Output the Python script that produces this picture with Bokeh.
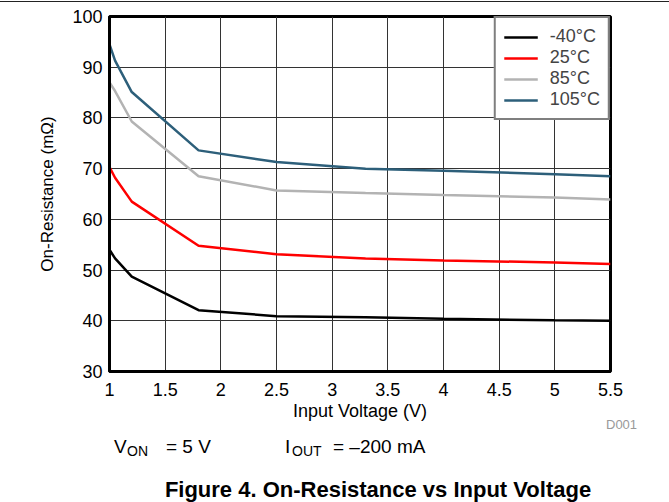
from bokeh.plotting import figure
from bokeh.layouts import column
from bokeh.models import Legend, LegendItem, Range1d, FixedTicker, Div
from bokeh.embed import file_html
from bokeh.resources import INLINE

# Data
input_voltage = [1.0, 1.05, 1.2, 1.8, 2.5, 3.3, 4.0, 5.0, 5.5]
r_m40 = [54.0, 52.3, 48.7, 42.1, 40.9, 40.7, 40.4, 40.1, 40.0]
r_25 = [70.3, 68.2, 63.5, 54.8, 53.1, 52.3, 51.9, 51.5, 51.2]
r_85 = [87.0, 85.3, 79.3, 68.5, 65.7, 65.2, 64.8, 64.3, 63.9]
r_105 = [94.5, 91.3, 85.1, 73.6, 71.3, 70.0, 69.6, 68.9, 68.5]
series_names = ["-40\u00b0C", "25\u00b0C", "85\u00b0C", "105\u00b0C"]
x_ticks = [1, 1.5, 2, 2.5, 3, 3.5, 4, 4.5, 5, 5.5]
y_ticks = [30, 40, 50, 60, 70, 80, 90, 100]
x_tick_labels = ["1", "1.5", "2", "2.5", "3", "3.5", "4", "4.5", "5", "5.5"]

FONT = "Liberation Sans"
W = 667

# --- thin rule at the top of the page ---
rule = Div(width=W, height=3, margin=0,
           text='<div style="position:absolute;left:0;top:1px;width:669px;height:1px;background:#222"></div>',
           styles={"position": "relative"})

# --- main chart ---
p = figure(width=W, height=416, frame_width=501, frame_height=355,
           min_border_left=109, min_border_right=W - 109 - 501, min_border_top=13, min_border_bottom=48,
           x_range=Range1d(1, 5.5), y_range=Range1d(30, 100),
           output_backend="svg", toolbar_location=None)

p.background_fill_color = "white"
p.border_fill_color = "white"
p.outline_line_color = "black"
p.outline_line_width = 3

p.xaxis.ticker = FixedTicker(ticks=x_ticks)
p.yaxis.ticker = FixedTicker(ticks=y_ticks)
p.xaxis.major_label_overrides = dict(zip(x_ticks, x_tick_labels))

for ax in (p.xaxis[0], p.yaxis[0]):
    ax.axis_line_color = "black"
    ax.axis_line_width = 3
    ax.major_tick_out = 0
    ax.major_tick_in = 0
    ax.minor_tick_out = 0
    ax.minor_tick_in = 0
    ax.major_label_text_font = FONT
    ax.major_label_text_font_size = "18px"
    ax.major_label_text_color = "black"
    ax.axis_label_text_font = FONT
    ax.axis_label_text_font_style = "normal"
    ax.axis_label_text_color = "black"

p.xaxis.axis_label = "Input Voltage (V)"
p.xaxis.axis_label_text_font_size = "18px"
p.xaxis.major_label_standoff = 11
p.xaxis.axis_label_standoff = 2
p.yaxis.axis_label = "On-Resistance (m\u03a9)"
p.yaxis.axis_label_text_font_size = "17px"
p.yaxis.major_label_standoff = 7
p.yaxis.axis_label_standoff = 12

p.xgrid.grid_line_color = "#333333"
p.ygrid.grid_line_color = "#333333"
p.xgrid.grid_line_width = 1
p.ygrid.grid_line_width = 1

colors = ["black", "#ff0000", "#b3b3b3", "#2d5f7a"]
renderers = []
for ys, c in zip([r_m40, r_25, r_85, r_105], colors):
    renderers.append(p.line(input_voltage, ys, line_color=c, line_width=2.5))

legend = Legend(items=[LegendItem(label=n, renderers=[r]) for n, r in zip(series_names, renderers)],
                location="top_right", margin=0, padding=8, spacing=0,
                glyph_width=34, glyph_height=20, label_height=20, label_standoff=12,
                label_text_font=FONT, label_text_font_size="18px",
                border_line_color="black", border_line_width=2,
                background_fill_color="white", background_fill_alpha=1.0)
p.add_layout(legend, "center")

# --- notes below the chart (positions in px inside the note block) ---
def span(left, top, size, s, extra=""):
    return (f'<span style="position:absolute;left:{left}px;top:{top}px;font-size:{size}px;'
            f'line-height:normal;white-space:pre;{extra}">{s}</span>')

notes_html = (
    f'<div style="position:relative;width:{W}px;height:82px;font-family:\'{FONT}\';color:black">'
    + span(606, -6, 13, "D001", "color:#999999;")
    + span(114, 13, 19, "V")
    + span(127, 20, 14, "ON")
    + span(166, 13, 19, "= 5 V")
    + span(285, 13, 19, "I")
    + span(292, 20, 14, "OUT")
    + span(333, 13, 19, "= \u2013200 mA")
    + f'<div style="position:absolute;left:78px;top:55px;width:600px;text-align:center;'
      f'font-size:22px;font-weight:bold;line-height:24px;white-space:nowrap">'
      f'Figure 4. On-Resistance vs Input Voltage</div>'
    + '</div>'
)
notes = Div(width=W, height=82, margin=0, text=notes_html, styles={"position": "relative"})

layout = column(rule, p, notes, spacing=0)
open("out.html", "w").write(file_html(layout, INLINE))
